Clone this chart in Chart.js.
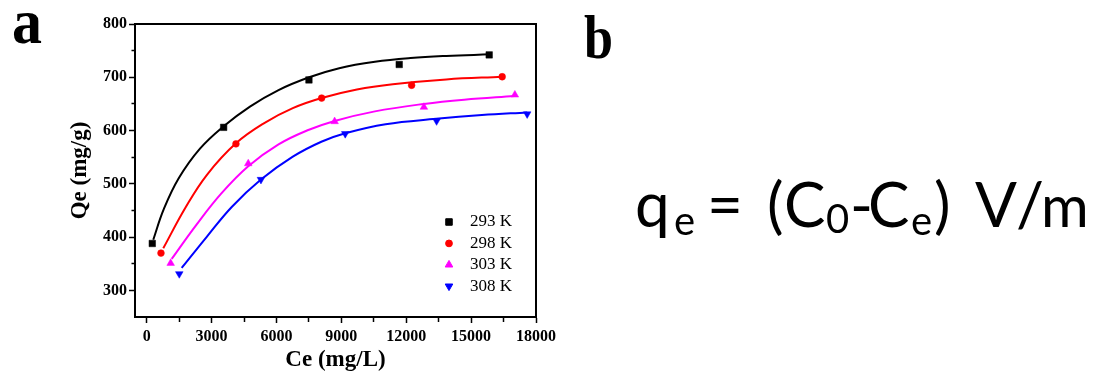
<!DOCTYPE html>
<html>
<head>
<meta charset="utf-8">
<title>Qe vs Ce isotherms</title>
<script src="https://cdn.jsdelivr.net/npm/chart.js@4.4.0/dist/chart.umd.min.js"></script>
<style>
	html, body { margin: 0; padding: 0; background: #fff; }
	#page { position: relative; width: 1108px; height: 374px; overflow: hidden; background: #fff; }
	#chart-box { position: absolute; left: 0; top: 0; width: 560px; height: 374px; }
	#overlay { position: absolute; left: 0; top: 0; }
</style>
</head>
<body>
<div id="page">
	<div id="chart-box"><canvas id="chart"></canvas></div>
	<svg id="overlay" width="1108" height="374">
		<text x="12" y="43" font-family="Liberation Serif" font-weight="bold" font-size="64" textLength="30" lengthAdjust="spacingAndGlyphs">a</text>
		<text x="584" y="58" font-family="Liberation Serif" font-weight="bold" font-size="62" textLength="29" lengthAdjust="spacingAndGlyphs">b</text>
		<text font-family="Lato" font-size="62" fill="#000">
			<tspan x="635" y="227">q</tspan>
			<tspan x="674" y="235" font-size="40">e</tspan>
			<tspan x="707" y="227">=</tspan>
			<tspan x="767" y="227">(</tspan>
			<tspan x="784" y="227">C</tspan>
			<tspan x="826" y="233" font-size="40">0</tspan>
			<tspan x="850" y="227">-</tspan>
			<tspan x="868" y="227">C</tspan>
			<tspan x="911" y="235" font-size="40">e</tspan>
			<tspan x="934" y="227">)</tspan>
			<tspan x="975" y="227">V</tspan>
			<tspan x="1016" y="227">/</tspan>
			<tspan x="1041" y="227" font-size="58">m</tspan>
		</text>
	</svg>
</div>
<script>
// Series labels and styles
const tempLabels = [ '293 K', '298 K', '303 K', '308 K' ];
const seriesColors = [ '#000000', '#ff0000', '#ff00ff', '#0000ff' ];

// Measured points (Ce in mg/L, Qe in mg/g)
const ce293 = [ 259, 3559, 7502, 11676, 15836 ];
const qe293 = [ 388, 606, 695, 724, 742 ];
const ce298 = [ 661, 4127, 8089, 12249, 16436 ];
const qe298 = [ 370, 575, 661, 685, 701 ];
const ce303 = [ 1109, 4696, 8689, 12817, 17023 ];
const qe303 = [ 351, 538, 617, 644, 667 ];
const ce308 = [ 1507, 5283, 9180, 13404, 17592 ];
const qe308 = [ 331, 508, 594, 618, 631 ];

// Fitted curves
const fitCe293 = [ 305, 786, 1474, 2464, 3559, 4775, 6096, 7515, 8902, 10552, 12202, 13852, 15867 ];
const fitQe293 = [ 395, 452, 510, 566, 608, 645, 676, 700, 717, 729, 736, 740, 743 ];
const fitCe298 = [ 767, 1803, 2787, 4127, 5435, 6757, 8089, 9720, 11379, 13852, 16436 ];
const fitQe298 = [ 379, 456, 517, 576, 614, 642, 661, 677, 687, 696, 701 ];
const fitCe303 = [ 1156, 2297, 3453, 4696, 6096, 7409, 8689, 10552, 12817, 14680, 17005 ];
const fitQe303 = [ 359, 423, 482, 533, 574, 600, 618, 636, 650, 658, 665 ];
const fitCe308 = [ 1618, 2787, 3943, 5283, 6757, 8075, 9180, 11047, 13390, 15498, 17592 ];
const fitQe308 = [ 342, 401, 457, 508, 551, 579, 595, 612, 622, 629, 634 ];

// Axis ticks: labelled and minor
const xTicks = [ 0, 3000, 6000, 9000, 12000, 15000, 18000 ];
const xMinor = [ 1500, 4500, 7500, 10500, 13500, 16500 ];
const yTicks = [ 300, 400, 500, 600, 700, 800 ];
const yMinor = [ 350, 450, 550, 650, 750 ];

const serif = '"Liberation Serif", "Times New Roman", serif';

const markerStyles = [
	{ pointStyle: 'rect', rotation: 0, radius: 4.6 },
	{ pointStyle: 'circle', rotation: 0, radius: 3.4 },
	{ pointStyle: 'triangle', rotation: 0, radius: 4.4 },
	{ pointStyle: 'triangle', rotation: 180, radius: 4.4 },
];

function toPoints( xs, ys ) {
	return xs.map( ( x, i ) => ( { x, y: ys[ i ] } ) );
}

function tickList( major, minor ) {
	return major.concat( minor ).sort( ( a, b ) => a - b ).map( ( value ) => ( { value } ) );
}

const markerSets = [
	toPoints( ce293, qe293 ),
	toPoints( ce298, qe298 ),
	toPoints( ce303, qe303 ),
	toPoints( ce308, qe308 ),
];
const fitSets = [
	toPoints( fitCe293, fitQe293 ),
	toPoints( fitCe298, fitQe298 ),
	toPoints( fitCe303, fitQe303 ),
	toPoints( fitCe308, fitQe308 ),
];

// markers first so they sit on top of the lines
const datasets = [];
markerSets.forEach( ( data, i ) => {
	datasets.push( {
		label: tempLabels[ i ],
		data,
		showLine: false,
		pointStyle: markerStyles[ i ].pointStyle,
		rotation: markerStyles[ i ].rotation,
		pointRadius: markerStyles[ i ].radius,
		pointBackgroundColor: seriesColors[ i ],
		pointBorderColor: seriesColors[ i ],
		pointBorderWidth: 0.5,
	} );
} );
fitSets.forEach( ( data, i ) => {
	datasets.push( {
		label: tempLabels[ i ] + ' fit',
		data,
		showLine: true,
		borderColor: seriesColors[ i ],
		borderWidth: 2,
		pointRadius: 0,
		tension: 0.4,
	} );
} );

/**
 * Legend inside the plot, lower right
 */
const insetLegend = {
	id: 'insetLegend',
	afterDraw( chart ) {
		const { ctx, chartArea } = chart;
		const mx = chartArea.right - 87;
		const y0 = chartArea.top + 198;
		tempLabels.forEach( ( label, i ) => {
			const y = y0 + i * 21.4;
			ctx.save();
			ctx.fillStyle = seriesColors[ i ];
			ctx.strokeStyle = seriesColors[ i ];
			Chart.helpers.drawPoint( ctx, {
				pointStyle: markerStyles[ i ].pointStyle,
				rotation: markerStyles[ i ].rotation,
				radius: markerStyles[ i ].radius,
				borderWidth: 0.5,
			}, mx, y );
			ctx.fillStyle = '#000';
			ctx.font = '17px ' + serif;
			ctx.textBaseline = 'middle';
			ctx.textAlign = 'left';
			ctx.fillText( label, mx + 21, y );
			ctx.restore();
		} );
	},
};

/**
 * Top and right edges of the plot box
 */
const frameBox = {
	id: 'frameBox',
	afterDraw( chart ) {
		const { ctx, chartArea } = chart;
		ctx.save();
		ctx.strokeStyle = '#000';
		ctx.lineWidth = 2;
		ctx.beginPath();
		ctx.moveTo( chartArea.left, chartArea.top );
		ctx.lineTo( chartArea.right, chartArea.top );
		ctx.lineTo( chartArea.right, chartArea.bottom );
		ctx.stroke();
		ctx.restore();
	},
};

new Chart( document.getElementById( 'chart' ), {
	type: 'scatter',
	data: { datasets },
	plugins: [ insetLegend, frameBox ],
	options: {
		responsive: true,
		maintainAspectRatio: false,
		animation: false,
		layout: { padding: { left: 0, top: 24, right: 24, bottom: 0 } },
		plugins: {
			legend: { display: false },
			tooltip: { enabled: false },
		},
		scales: {
			x: {
				type: 'linear',
				position: 'bottom',
				min: -540,
				max: 18000,
				afterBuildTicks: ( scale ) => {
					scale.ticks = tickList( xTicks, xMinor );
				},
				afterFit: ( scale ) => {
					scale.height = 57;
				},
				border: { display: true, color: '#000', width: 2 },
				grid: {
					drawOnChartArea: false,
					drawTicks: true,
					tickLength: 6,
					tickWidth: 1.5,
					tickColor: '#000',
					tickBorderDash: ( c ) => ( xTicks.includes( c.tick.value ) ? [] : [ 4, 100 ] ),
				},
				ticks: {
					autoSkip: false,
					maxRotation: 0,
					padding: 4,
					color: '#000',
					font: { family: serif, size: 16, weight: 'bold' },
					callback: ( v ) => ( xTicks.includes( v ) ? String( v ) : '' ),
				},
				title: {
					display: true,
					text: 'Ce (mg/L)',
					color: '#000',
					font: { family: serif, size: 23, weight: 'bold' },
					padding: { top: 0, bottom: 0 },
				},
			},
			y: {
				type: 'linear',
				position: 'left',
				min: 250,
				max: 800,
				afterBuildTicks: ( scale ) => {
					scale.ticks = tickList( yTicks, yMinor );
				},
				afterFit: ( scale ) => {
					scale.width = 135;
				},
				border: { display: true, color: '#000', width: 2 },
				grid: {
					drawOnChartArea: false,
					drawTicks: true,
					tickLength: 6,
					tickWidth: 1.5,
					tickColor: '#000',
					tickBorderDash: ( c ) => ( yTicks.includes( c.tick.value ) ? [] : [ 0, 2.5, 3.5, 100 ] ),
				},
				ticks: {
					autoSkip: false,
					padding: 2,
					color: '#000',
					font: { family: serif, size: 16, weight: 'bold' },
					callback: ( v ) => ( yTicks.includes( v ) ? String( v ) : '' ),
				},
				title: {
					display: true,
					text: 'Qe (mg/g)',
					color: '#000',
					font: { family: serif, size: 23, weight: 'bold' },
					padding: { top: 66, bottom: 0 },
				},
			},
		},
	},
} );
</script>
</body>
</html>
